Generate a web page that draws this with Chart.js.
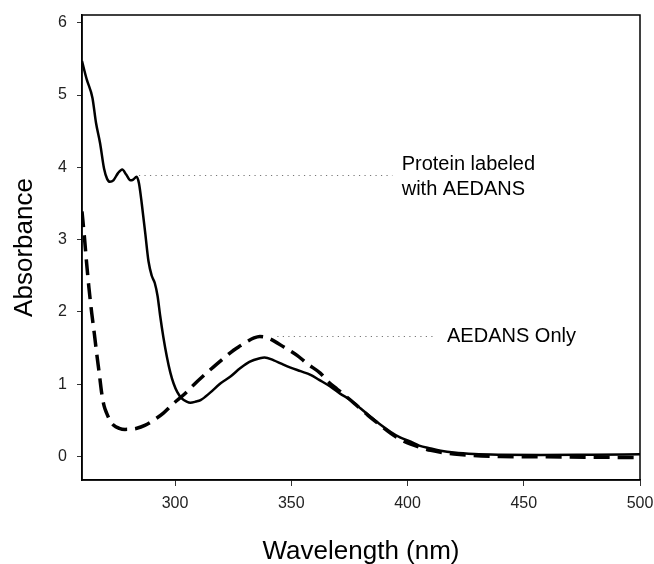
<!DOCTYPE html>
<html>
<head>
<meta charset="utf-8">
<title>Absorbance spectra</title>
<script src="https://cdn.jsdelivr.net/npm/chart.js@4.4.3/dist/chart.umd.min.js"></script>
<style>
  html, body { margin: 0; padding: 0; background: #fff; }
  #wrap { position: relative; width: 654px; height: 564px; }
</style>
</head>
<body>
<div id="wrap"><canvas id="spectra"></canvas></div>
<script>
// Protein labeled with AEDANS (solid trace)
const labeledWavelength = [
  260, 262, 264.5, 266, 267.8, 269.5, 270.8, 272, 273.5, 275.5, 277.3, 279, 280.8, 282, 283.5,
  284.5, 285.7, 287.2, 288.6, 290, 291.3, 292.5, 293.6, 295, 296.5, 298, 299.4, 301, 303, 305,
  306.6, 309, 311, 315, 319.5, 324, 328, 332, 336.5, 338.5, 342.5, 346, 349.7, 354, 358.3, 362,
  366.9, 371, 375.5, 380, 384.1, 388, 392.8, 397, 401.4, 405, 410, 414.3, 420, 428.7, 440, 457.4,
  480, 500
];
const labeledAbs = [
  5.47, 5.22, 4.96, 4.62, 4.33, 3.98, 3.84, 3.80, 3.82, 3.92, 3.97, 3.90, 3.82, 3.83, 3.87,
  3.78, 3.50, 3.09, 2.70, 2.50, 2.40, 2.22, 1.95, 1.65, 1.38, 1.16, 1.01, 0.89, 0.80, 0.76,
  0.745, 0.76, 0.78, 0.88, 1.01, 1.11, 1.22, 1.31, 1.36, 1.37, 1.33, 1.28, 1.23, 1.18, 1.13, 1.06,
  0.965, 0.87, 0.78, 0.66, 0.55, 0.45, 0.34, 0.26, 0.205, 0.15, 0.11, 0.08, 0.055, 0.035, 0.025, 0.02,
  0.025, 0.03
];

// AEDANS only (dashed trace)
const aedansWavelength = [
  260, 261, 262, 263, 264.2, 265.3, 266.3, 267.5, 268.5, 269.5, 270.6, 272, 273.5, 276, 278.5,
  281, 283.6, 287, 290.7, 295, 299.4, 304, 308, 312, 316.6, 321, 325.2, 328, 331, 334, 336.5,
  339, 342.5, 347, 352.5, 357, 362.6, 366, 369.8, 374, 378, 383, 388, 392.8, 397, 401.4, 406,
  410, 415, 420, 428, 440, 460, 480, 500
];
const aedansAbs = [
  3.39, 3.05, 2.67, 2.33, 1.98, 1.70, 1.43, 1.13, 0.87, 0.70, 0.60, 0.50, 0.435, 0.39, 0.375,
  0.378, 0.39, 0.43, 0.50, 0.60, 0.735, 0.86, 0.99, 1.11, 1.24, 1.36, 1.47, 1.53, 1.59, 1.64, 1.66,
  1.65, 1.60, 1.51, 1.40, 1.28, 1.15, 1.03, 0.93, 0.82, 0.71, 0.57, 0.44, 0.32, 0.235, 0.17, 0.12,
  0.085, 0.055, 0.035, 0.015, 0.0, -0.005, -0.01, -0.015
];

const xTicks = [300, 350, 400, 450, 500];
const yTicks = [0, 1, 2, 3, 4, 5, 6];

// callout text with dotted leaders (data units)
const noteLines = [['Protein labeled', 'with AEDANS'], ['AEDANS Only']];
const noteX = [397.5, 417];
const noteY = [3.86, 1.66];
const leaderFrom = [284.5, 344];
const leaderTo = [393.5, 411];
const leaderY = [3.89, 1.66];

const FONT = "'Liberation Sans', Arial, sans-serif";

function toPoints(xs, ys) {
  return xs.map((x, i) => ({ x, y: ys[i] }));
}

// frame around the plot area plus the callouts
const frameAndNotes = {
  id: 'frameAndNotes',
  afterDatasetsDraw(chart) {
    const { ctx, chartArea, scales } = chart;
    const xs = scales.x;
    const ys = scales.y;
    ctx.save();

    ctx.strokeStyle = '#777';
    ctx.lineWidth = 1.2;
    ctx.setLineDash([1.2, 4.3]);
    leaderY.forEach((v, i) => {
      const y = Math.round(ys.getPixelForValue(v)) + 0.5;
      ctx.beginPath();
      ctx.moveTo(xs.getPixelForValue(leaderFrom[i]), y);
      ctx.lineTo(xs.getPixelForValue(leaderTo[i]), y);
      ctx.stroke();
    });
    ctx.setLineDash([]);

    ctx.fillStyle = '#000';
    ctx.font = `20px ${FONT}`;
    ctx.textAlign = 'left';
    ctx.textBaseline = 'middle';
    const lineGap = 25;
    noteLines.forEach((lines, i) => {
      const cx = xs.getPixelForValue(noteX[i]);
      const cy = ys.getPixelForValue(noteY[i]);
      const top = cy - (lines.length - 1) * lineGap / 2;
      lines.forEach((t, j) => ctx.fillText(t, cx, top + j * lineGap));
    });

    ctx.strokeStyle = '#000';
    ctx.lineWidth = 1.5;
    ctx.strokeRect(chartArea.left, chartArea.top, chartArea.right - chartArea.left, chartArea.bottom - chartArea.top);
    ctx.restore();
  }
};

const ctx = document.getElementById('spectra');
new Chart(ctx, {
  type: 'line',
  data: {
    datasets: [
      {
        label: 'Protein labeled with AEDANS',
        data: toPoints(labeledWavelength, labeledAbs),
        borderColor: '#000',
        borderWidth: 2.5,
        pointRadius: 0,
        cubicInterpolationMode: 'monotone',
        fill: false
      },
      {
        label: 'AEDANS Only',
        data: toPoints(aedansWavelength, aedansAbs),
        borderColor: '#000',
        borderWidth: 3.5,
        borderDash: [16, 8],
        pointRadius: 0,
        cubicInterpolationMode: 'monotone',
        fill: false
      }
    ]
  },
  options: {
    responsive: true,
    maintainAspectRatio: false,
    animation: false,
    clip: true,
    layout: { padding: { top: 15, right: 14, left: 0, bottom: 0 } },
    plugins: {
      legend: { display: false },
      tooltip: { enabled: false }
    },
    scales: {
      x: {
        type: 'linear',
        min: 260,
        max: 500,
        afterBuildTicks: (s) => { s.ticks = xTicks.map(v => ({ value: v })); },
        afterFit: (s) => {
          s.height = 84;
          s.paddingLeft = 0;
          s.paddingRight = 0;
        },
        grid: { drawOnChartArea: false, color: '#333', tickLength: 6 },
        border: { color: '#000', width: 1.5 },
        ticks: { color: '#222', padding: 8, maxRotation: 0, font: { family: FONT, size: 16 } },
        title: {
          display: true,
          text: 'Wavelength (nm)',
          color: '#000',
          padding: { top: 0, bottom: -1 },
          font: { family: FONT, size: 26, lineHeight: 1 }
        }
      },
      y: {
        min: -0.325,
        max: 6.107,
        afterBuildTicks: (s) => { s.ticks = yTicks.map(v => ({ value: v })); },
        afterFit: (s) => {
          s.width = 82;
          s.paddingTop = 0;
          s.paddingBottom = 0;
        },
        grid: { drawOnChartArea: false, color: '#333', tickLength: 5 },
        border: { color: '#000', width: 1.5 },
        ticks: { color: '#222', padding: 10, font: { family: FONT, size: 16 } },
        title: {
          display: true,
          text: 'Absorbance',
          color: '#000',
          padding: { top: 12, bottom: 0 },
          font: { family: FONT, size: 26, lineHeight: 1 }
        }
      }
    }
  },
  plugins: [frameAndNotes]
});
</script>
</body>
</html>
